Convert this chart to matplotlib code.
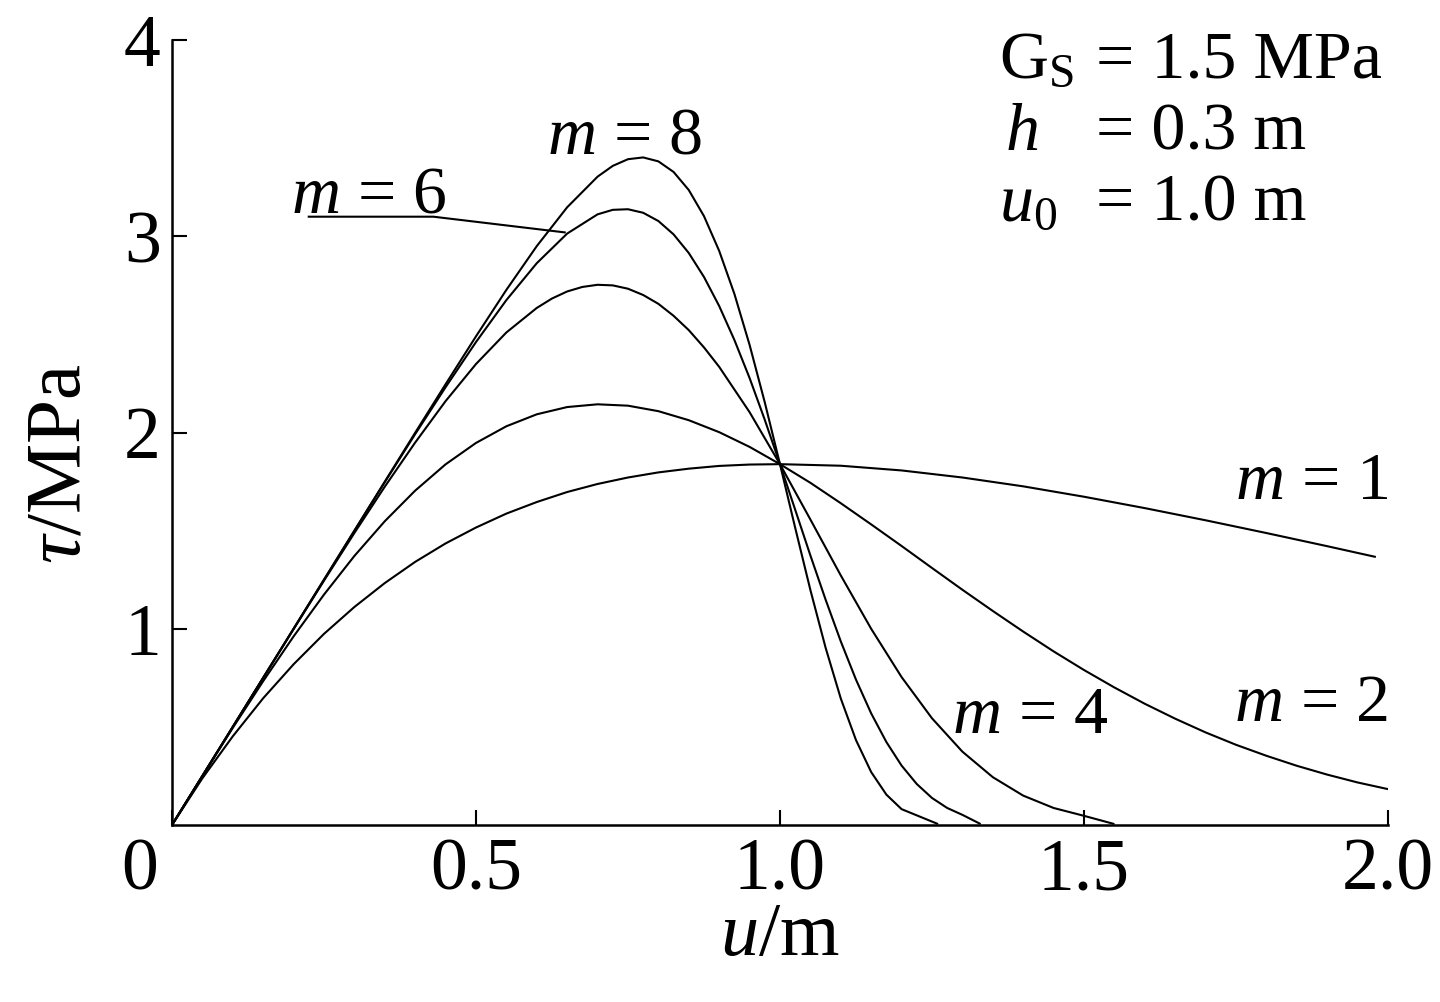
import matplotlib
matplotlib.use('Agg')
import matplotlib.pyplot as plt

# values (u in m, tau in MPa)
u_m1 = [0, 0.05, 0.1, 0.15, 0.2, 0.25, 0.3, 0.35, 0.4, 0.45, 0.5, 0.55, 0.6, 0.65, 0.7, 0.75,
        0.8, 0.85, 0.9, 0.95, 1.0, 1.1, 1.2, 1.3, 1.4, 1.5, 1.6, 1.7, 1.8, 1.9, 1.98]
tau_m1 = [0, 0.238, 0.452, 0.646, 0.819, 0.974, 1.111, 1.233, 1.341, 1.435, 1.516, 1.587, 1.646,
          1.697, 1.738, 1.771, 1.797, 1.816, 1.830, 1.837, 1.839, 1.831, 1.807, 1.771, 1.726,
          1.673, 1.615, 1.553, 1.488, 1.421, 1.366]

u_m2 = [0, 0.05, 0.1, 0.15, 0.2, 0.25, 0.3, 0.35, 0.4, 0.45, 0.5, 0.55, 0.6, 0.65, 0.7, 0.75,
        0.8, 0.85, 0.9, 0.95, 1.0, 1.05, 1.1, 1.15, 1.2, 1.25, 1.3, 1.35, 1.4, 1.45, 1.5, 1.55,
        1.6, 1.65, 1.7, 1.75, 1.8, 1.85, 1.9, 1.95, 2.0]
tau_m2 = [0, 0.249, 0.495, 0.733, 0.961, 1.174, 1.371, 1.548, 1.704, 1.838, 1.947, 2.032, 2.093,
          2.130, 2.144, 2.137, 2.109, 2.063, 2.002, 1.927, 1.839, 1.744, 1.640, 1.532, 1.422,
          1.310, 1.199, 1.091, 0.986, 0.885, 0.790, 0.701, 0.618, 0.542, 0.472, 0.409, 0.353,
          0.302, 0.257, 0.217, 0.183]

u_m4 = [0, 0.05, 0.1, 0.15, 0.2, 0.25, 0.3, 0.35, 0.4, 0.45, 0.5, 0.55, 0.6, 0.625, 0.65, 0.675,
        0.7, 0.725, 0.75, 0.775, 0.8, 0.825, 0.85, 0.875, 0.9, 0.95, 1.0, 1.05, 1.1, 1.15, 1.2,
        1.25, 1.3, 1.35, 1.4, 1.45, 1.5, 1.55]
tau_m4 = [0, 0.25, 0.500, 0.750, 0.998, 1.245, 1.488, 1.724, 1.949, 2.160, 2.349, 2.510, 2.635,
          2.683, 2.719, 2.742, 2.753, 2.750, 2.733, 2.701, 2.656, 2.595, 2.522, 2.434, 2.335,
          2.104, 1.839, 1.557, 1.272, 1.000, 0.754, 0.544, 0.374, 0.244, 0.150, 0.087, 0.047,
          0.005]

u_m6 = [0, 0.1, 0.2, 0.3, 0.35, 0.4, 0.45, 0.5, 0.55, 0.6, 0.65, 0.7, 0.725, 0.75, 0.775, 0.8,
        0.825, 0.85, 0.875, 0.9, 0.925, 0.95, 0.975, 1.0, 1.025, 1.05, 1.075, 1.1, 1.125, 1.15,
        1.175, 1.2, 1.225, 1.25, 1.275, 1.3, 1.33]
tau_m6 = [0, 0.5, 1.0, 1.499, 1.747, 1.992, 2.231, 2.461, 2.675, 2.863, 3.014, 3.112, 3.135,
          3.138, 3.120, 3.078, 3.010, 2.915, 2.793, 2.645, 2.472, 2.278, 2.065, 1.839, 1.607,
          1.374, 1.149, 0.936, 0.741, 0.569, 0.423, 0.303, 0.209, 0.138, 0.087, 0.052, 0.005]

u_m8 = [0, 0.1, 0.2, 0.3, 0.4, 0.45, 0.5, 0.55, 0.6, 0.65, 0.7, 0.725, 0.75, 0.775, 0.8, 0.825,
        0.85, 0.875, 0.9, 0.925, 0.95, 0.975, 1.0, 1.025, 1.05, 1.075, 1.1, 1.125, 1.15, 1.175,
        1.2, 1.26]
tau_m8 = [0, 0.5, 1.0, 1.5, 1.999, 2.246, 2.490, 2.727, 2.950, 3.148, 3.304, 3.359, 3.393, 3.402,
          3.382, 3.328, 3.236, 3.103, 2.926, 2.707, 2.447, 2.154, 1.839, 1.515, 1.198, 0.904,
          0.645, 0.433, 0.270, 0.155, 0.081, 0.005]

# leader line from the "m = 6" label to its curve
leader_u = [0.225, 0.43, 0.646]
leader_tau = [3.10, 3.10, 3.02]

x_ticks = [0, 0.5, 1.0, 1.5, 2.0]
x_tick_labels = ['', '0.5', '1.0', '1.5', '2.0']
y_ticks = [1, 2, 3, 4]
y_tick_labels = ['1', '2', '3', '4']

plt.rcParams['font.family'] = ['Liberation Serif', 'DejaVu Serif']
plt.rcParams['mathtext.fontset'] = 'custom'
plt.rcParams['mathtext.rm'] = 'Liberation Serif'
plt.rcParams['mathtext.it'] = 'Liberation Serif:italic'

fig = plt.figure(figsize=(14.4, 10.02), dpi=100)
ax = fig.add_axes([0.1194, 0.1766, 0.8445, 0.7834])

lw = 1.5
for uu, tt in [(u_m1, tau_m1), (u_m2, tau_m2), (u_m4, tau_m4), (u_m6, tau_m6), (u_m8, tau_m8)]:
    ax.plot(uu, tt, color='black', lw=lw, solid_capstyle='butt', solid_joinstyle='round')
ax.plot(leader_u, leader_tau, color='black', lw=lw)

ax.set_xlim(0, 2.0)
ax.set_ylim(0, 4)
ax.spines['top'].set_visible(False)
ax.spines['right'].set_visible(False)
ax.spines['left'].set_linewidth(1.8)
ax.spines['bottom'].set_linewidth(1.8)

fs = 53
ax.set_xticks(x_ticks)
ax.set_xticklabels(x_tick_labels, fontsize=fs)
ax.set_yticks(y_ticks)
ax.set_yticklabels(y_tick_labels, fontsize=fs)
ax.tick_params(axis='both', direction='in', length=11, width=1.5)
ax.tick_params(axis='x', pad=9)
ax.tick_params(axis='y', pad=8)
# origin label sits left of the corner
ax.annotate('0', xy=(0, 0), xycoords=ax.get_xaxis_transform(), xytext=(-10, -9),
            textcoords='offset points', ha='right', va='top', fontsize=fs)

ax.set_xlabel(r'$u$/m', fontsize=fs + 2, labelpad=-2)
ax.set_ylabel(r'$\tau$/MPa', fontsize=fs + 4)
ax.yaxis.set_label_coords(-0.062, 0.46)

lfs = 49
ax.text(0.745, 3.42, r'$m$ = 8', fontsize=lfs, ha='center', va='baseline')
ax.text(0.195, 3.12, r'$m$ = 6', fontsize=lfs, ha='left', va='baseline')
ax.text(2.0, 1.66, r'$m$ = 1', fontsize=lfs, ha='right', va='baseline')
ax.text(1.54, 0.47, r'$m$ = 4', fontsize=lfs, ha='right', va='baseline')
ax.text(2.0, 0.53, r'$m$ = 2', fontsize=lfs, ha='right', va='baseline')

# parameter block, top right (data coordinates)
sym_u = 1.36
eq_u = 1.52
ax.text(sym_u, 3.81, r'$\mathrm{G}_\mathrm{S}$', fontsize=lfs, ha='left', va='baseline')
ax.text(eq_u, 3.81, '= 1.5 MPa', fontsize=lfs, ha='left', va='baseline')
ax.text(sym_u + 0.01, 3.44, r'$h$', fontsize=lfs, ha='left', va='baseline')
ax.text(eq_u, 3.44, '= 0.3 m', fontsize=lfs, ha='left', va='baseline')
ax.text(sym_u, 3.08, r'$u_\mathrm{0}$', fontsize=lfs, ha='left', va='baseline')
ax.text(eq_u, 3.08, '= 1.0 m', fontsize=lfs, ha='left', va='baseline')

fig.savefig('out.png', dpi=100)
